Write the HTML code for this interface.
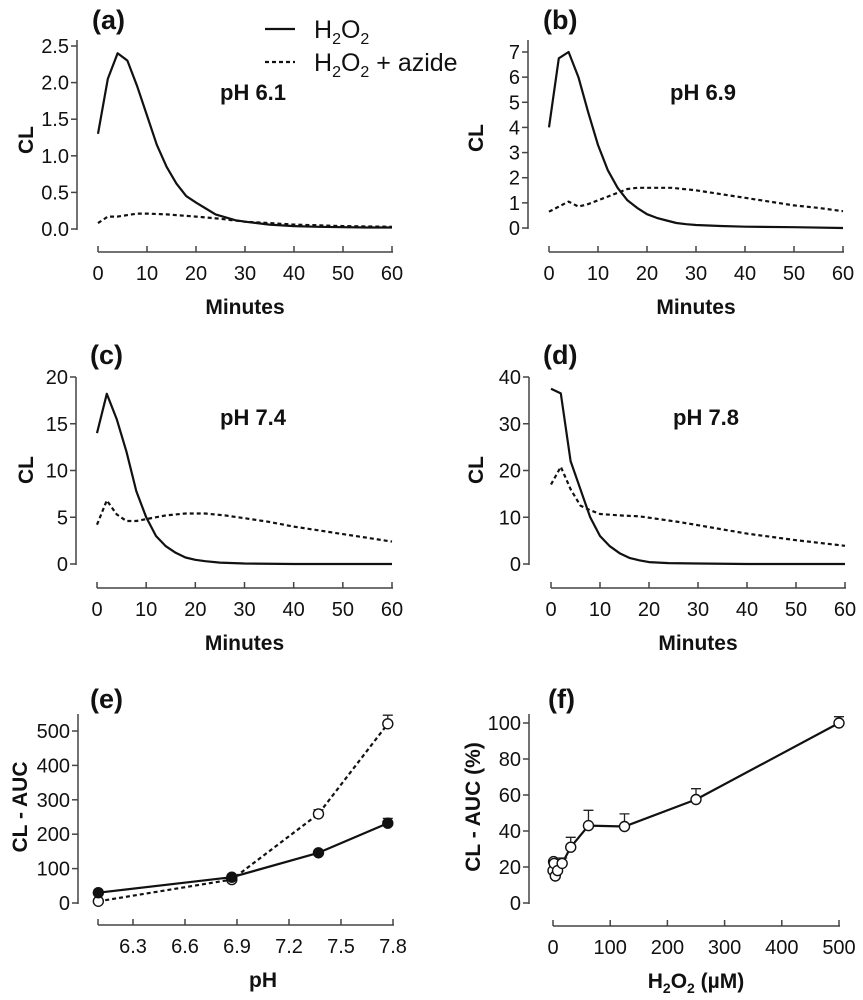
<!DOCTYPE html>
<html><head><meta charset="utf-8"><style>
body{margin:0;background:#fff}
svg{display:block;font-family:"Liberation Sans",Arial,sans-serif}
.tk{font-size:20px;fill:#111}
.ti{font-size:21px;font-weight:bold;fill:#111}
.pl{font-size:27px;font-weight:bold;fill:#111}
</style></head><body>
<svg id="c" width="863" height="1000" viewBox="0 0 863 1000" xmlns="http://www.w3.org/2000/svg"></svg>
<script>
// Panel (a) pH 6.1
const aT=[0,2,4,6,8,10,12,14,16,18,20,22,24,26,28,30,35,40,45,50,55,60];
const aSolid=[1.3,2.05,2.4,2.3,1.95,1.55,1.15,0.85,0.62,0.45,0.36,0.28,0.2,0.16,0.12,0.1,0.06,0.04,0.03,0.025,0.02,0.02];
const aDT=[0,2,4,6,8,10,14,20,25,30,35,40,50,60];
const aDash=[0.08,0.17,0.17,0.19,0.21,0.21,0.2,0.17,0.14,0.1,0.08,0.06,0.04,0.03];
// Panel (b) pH 6.9
const bT=[0,2,4,6,8,10,12,14,16,18,20,22,24,26,28,30,35,40,50,60];
const bSolid=[4,6.75,7,6,4.6,3.3,2.3,1.6,1.1,0.8,0.55,0.4,0.3,0.2,0.15,0.12,0.08,0.05,0.03,0];
const bDT=[0,2,4,6,8,10,12,14,16,18,20,25,30,35,40,45,50,55,60];
const bDash=[0.65,0.85,1.05,0.85,0.95,1.1,1.25,1.4,1.55,1.6,1.6,1.6,1.5,1.35,1.2,1.05,0.9,0.8,0.67];
// Panel (c) pH 7.4
const cT=[0,2,4,6,8,10,12,14,16,18,20,22,25,30,40,60];
const cSolid=[14,18.2,15.5,12,7.8,5,3,1.9,1.2,0.7,0.45,0.3,0.15,0.05,0,0];
const cDT=[0,2,4,6,8,10,14,18,22,26,30,35,40,45,50,55,60];
const cDash=[4.2,6.8,5.3,4.6,4.6,4.8,5.2,5.4,5.4,5.2,4.9,4.5,4.0,3.6,3.2,2.8,2.4];
// Panel (d) pH 7.8
const dT=[0,2,4,6,8,10,12,14,16,18,20,24,30,40,60];
const dSolid=[37.5,36.5,22,16,10,6,3.8,2.3,1.3,0.8,0.4,0.2,0.1,0,0];
const dDT=[0,2,4,6,8,10,14,18,22,26,30,35,40,45,50,55,60];
const dDash=[17,20.8,16,12.5,11.5,10.7,10.4,10.2,9.6,9,8.3,7.4,6.5,5.8,5.1,4.5,3.9];
// Panel (e)
const ePH=[6.1,6.87,7.37,7.77];
const eSolid=[30,75,146,232];
const eSolidErr=[0,0,0,14];
const eDash=[5,68,259,521];
const eDashErr=[0,0,12,25];
// Panel (f)
const fX=[0,1,2,4,8,16,31,62,125,250,500];
const fY=[18,23,22,15,18,22,31,43,42.5,57.5,100];
const fErr=[0,0,0,0,0,3,5.5,8.5,7,6,3.5];
// Tick labels
const minTicks=[0,10,20,30,40,50,60];
const aTicks=["0.0","0.5","1.0","1.5","2.0","2.5"];
const bTicks=[0,1,2,3,4,5,6,7];
const cTicks=[0,5,10,15,20];
const dTicks=[0,10,20,30,40];
const eYTicks=[0,100,200,300,400,500];
const eXTicks=["6.3","6.6","6.9","7.2","7.5","7.8"];
const fYTicks=[0,20,40,60,80,100];
const fXTicks=[0,100,200,300,400,500];

const svg=document.getElementById('c');
const NS='http://www.w3.org/2000/svg';
function el(tag,attrs,parent){const e=document.createElementNS(NS,tag);for(const k in attrs)e.setAttribute(k,attrs[k]);(parent||svg).appendChild(e);return e;}
function txt(s,x,y,cls,anchor,parent){const t=el('text',{x:x,y:y,'class':cls,'text-anchor':anchor||'middle'},parent);t.textContent=s;return t;}

function panel(o){
  const g=el('g',{});
  
  
  const sx=v=>o.x0+(v-o.xmin)/(o.xmax-o.xmin)*(o.x1-o.x0);
  const sy=v=>o.y0+(v-o.ymin)/(o.ymax-o.ymin)*(o.y1-o.y0);
  const ya=el('g',{},g);
  
  
  el('line',{x1:o.ax,x2:o.ax,y1:o.atop,y2:o.y0+1,stroke:'#444','stroke-width':1.5},ya);
  o.yt.forEach(v=>{const y=sy(parseFloat(v));el('line',{x1:o.ax-6,x2:o.ax,y1:y,y2:y,stroke:'#444','stroke-width':1.5},ya);txt(String(v),o.ax-8,y+7,'tk','end',ya);});
  const xa=el('g',{},g);
  
  
  const xl=o.xaxStart!==undefined?o.xaxStart:o.x0;
  el('line',{x1:xl,x2:o.x1+1,y1:o.axy,y2:o.axy,stroke:'#444','stroke-width':1.5},xa);
  o.xt.forEach(v=>{const x=sx(parseFloat(v));el('line',{x1:x,x2:x,y1:o.axy-6,y2:o.axy,stroke:'#444','stroke-width':1.5},xa);txt(String(v),x,o.axy+28,'tk','middle',xa);});
  if(o.xaxStart!==undefined) el('line',{x1:xl,x2:xl,y1:o.axy-6,y2:o.axy,stroke:'#444','stroke-width':1.5},xa);
  const xt=txt(o.xtitle,(o.x0+o.x1)/2,o.axy+62,'ti','middle',g);
  
  
  if(o.xtitleHTML) xt.innerHTML=o.xtitleHTML;
  const yt=txt(o.ytitle,0,0,'ti','middle',g);
  yt.setAttribute('transform','translate('+o.ytx+','+o.yty+') rotate(-90)');
  
  
  const pl=txt(o.label,o.lx,o.ly,'pl','start',g);
  
  
  if(o.ph){const p=txt(o.ph,o.phx,o.phy,'ti','start',g);p.style.fontSize='22px';
    
    }
  return {g,sx,sy};
}
function series(P,xs,ys,dash,name){
  const d=xs.map((x,i)=>(i?'L':'M')+P.sx(x).toFixed(1)+' '+P.sy(ys[i]).toFixed(1)).join(' ');
  const p=el('path',{d:d,fill:'none',stroke:'#111','stroke-width':2.2,'stroke-dasharray':dash?'4 3':'none','stroke-linejoin':'round'},P.g);
  
  
}
function marks(P,xs,ys,errs,filled,name){
  xs.forEach((x,i)=>{
    const cx=P.sx(x),cy=P.sy(ys[i]);
    if(errs[i]>0){const ey=P.sy(ys[i]+errs[i]);
      const e=el('path',{d:'M'+cx+' '+cy+' L'+cx+' '+ey+' M'+(cx-5)+' '+ey+' L'+(cx+5)+' '+ey,stroke:'#222','stroke-width':1.3,fill:'none'},P.g);
      
      }
    const c=el('circle',{cx:cx,cy:cy,r:5,fill:filled?'#111':'#fff',stroke:'#111','stroke-width':1.4},P.g);
    
    
  });
}
const CL={xtitle:'Minutes',ytitle:'CL',xmin:0,xmax:60,xt:minTicks};
const A=panel(Object.assign({},CL,{name:'panel-a',x0:98,x1:392,y0:229,y1:46,ymin:0,ymax:2.5,ax:77,atop:40,axy:252,yt:aTicks,ytx:33,yty:140,label:'(a)',lx:92,ly:29,ph:'pH 6.1',phx:220,phy:100}));
series(A,aT,aSolid,false,'h2o2-line');series(A,aDT,aDash,true,'h2o2-azide-line');
const B=panel(Object.assign({},CL,{name:'panel-b',x0:549,x1:843,y0:228,y1:52,ymin:0,ymax:7,ax:528,atop:40,axy:252,yt:bTicks,ytx:483,yty:138,label:'(b)',lx:543,ly:29,ph:'pH 6.9',phx:670,phy:100}));
series(B,bT,bSolid,false,'h2o2-line');series(B,bDT,bDash,true,'h2o2-azide-line');
const C=panel(Object.assign({},CL,{name:'panel-c',x0:97,x1:392,y0:564,y1:377,ymin:0,ymax:20,ax:76,atop:377,axy:588,yt:cTicks,ytx:33,yty:470,label:'(c)',lx:90,ly:364,ph:'pH 7.4',phx:220,phy:425}));
series(C,cT,cSolid,false,'h2o2-line');series(C,cDT,cDash,true,'h2o2-azide-line');
const D=panel(Object.assign({},CL,{name:'panel-d',x0:551,x1:845,y0:564,y1:377,ymin:0,ymax:40,ax:529,atop:377,axy:588,yt:dTicks,ytx:483,yty:470,label:'(d)',lx:543,ly:364,ph:'pH 7.8',phx:673,phy:425}));
series(D,dT,dSolid,false,'h2o2-line');series(D,dDT,dDash,true,'h2o2-azide-line');
const E=panel({name:'panel-e',x0:133,x1:393,xmin:6.3,xmax:7.8,xaxStart:98,y0:903,y1:731,ymin:0,ymax:500,ax:78,atop:714,axy:925,yt:eYTicks,xt:eXTicks,xtitle:'pH',ytitle:'CL - AUC',ytx:27,yty:807,label:'(e)',lx:90,ly:708});
series(E,ePH,eDash,true,'azide-auc-line');series(E,ePH,eSolid,false,'h2o2-auc-line');
marks(E,ePH,eDash,eDashErr,false,'azide-auc-point');marks(E,ePH,eSolid,eSolidErr,true,'h2o2-auc-point');
const F=panel({name:'panel-f',x0:553,x1:839,xmin:0,xmax:500,y0:903,y1:723,ymin:0,ymax:100,ax:529,atop:714,axy:926,yt:fYTicks,xt:fXTicks,xtitle:'H2O2 (µM)',xtitleHTML:'H<tspan font-size="14" dy="5">2</tspan><tspan dy="-5">O</tspan><tspan font-size="14" dy="5">2</tspan><tspan dy="-5"> (µM)</tspan>',ytitle:'CL - AUC (%)',ytx:480,yty:807,label:'(f)',lx:548,ly:708});
series(F,fX.slice(5),fY.slice(5),false,'auc-line');
el('path',{d:'M'+F.sx(8)+' '+F.sy(18)+' L'+F.sx(16)+' '+F.sy(22),stroke:'#111','stroke-width':2,fill:'none'},F.g);
marks(F,fX,fY,fErr,false,'auc-point');
const lg=el('g',{});


el('line',{x1:265,x2:295,y1:29,y2:29,stroke:'#111','stroke-width':2.2},lg);
el('line',{x1:265,x2:295,y1:62,y2:62,stroke:'#111','stroke-width':2.2,'stroke-dasharray':'4 3'},lg);
const l1=el('text',{x:314,y:38,'font-size':'25',fill:'#111'},lg);


l1.innerHTML='H<tspan font-size="16" dy="6">2</tspan><tspan dy="-6">O</tspan><tspan font-size="16" dy="6">2</tspan>';
const l2=el('text',{x:314,y:71,'font-size':'25',fill:'#111'},lg);


l2.innerHTML='H<tspan font-size="16" dy="6">2</tspan><tspan dy="-6">O</tspan><tspan font-size="16" dy="6">2</tspan><tspan dy="-6"> + azide</tspan>';
</script>
</body></html>
